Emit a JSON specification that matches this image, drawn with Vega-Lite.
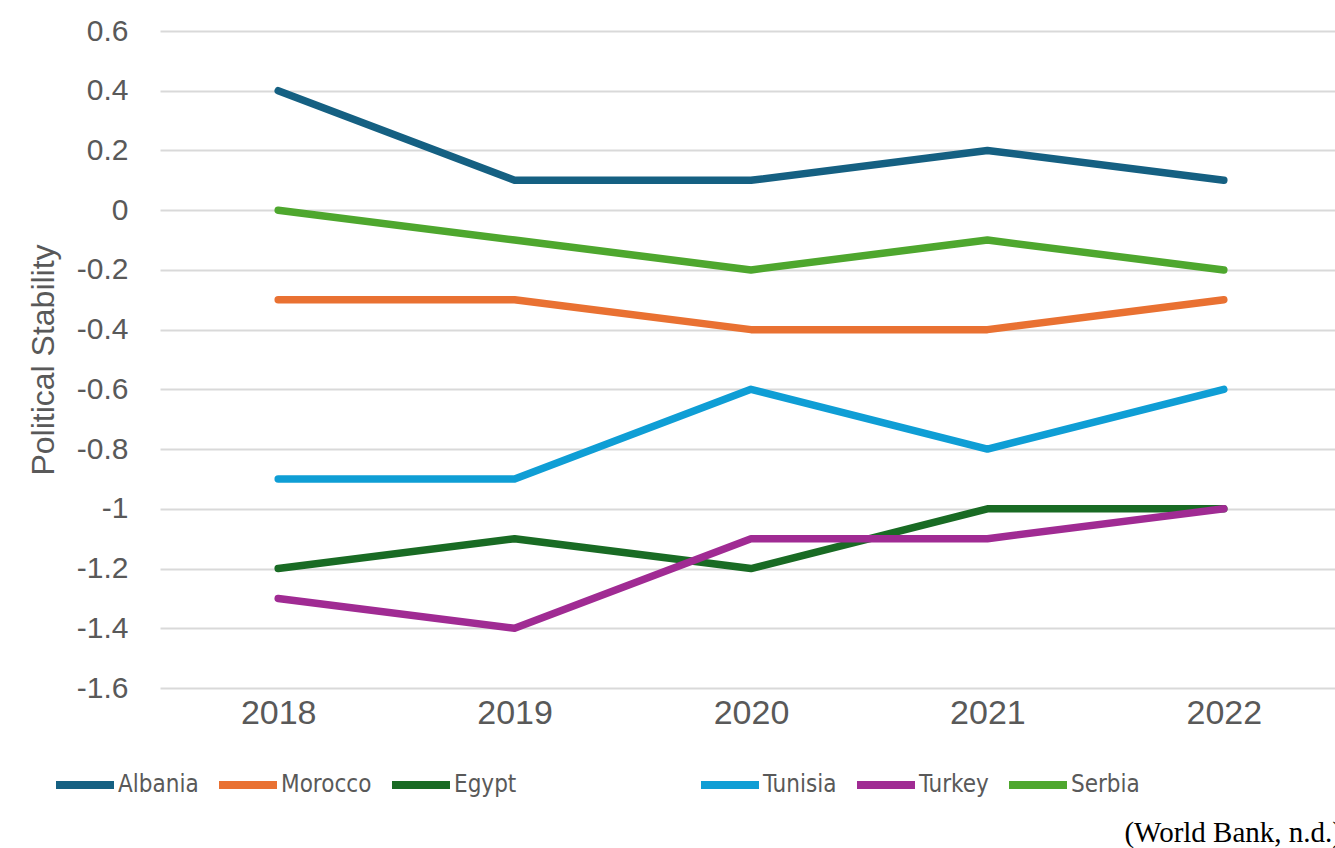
{
  "$schema": "https://vega.github.io/schema/vega-lite/v6.json",
  "width": 1182,
  "height": 657,
  "autosize": {"type": "none"},
  "padding": {"left": 160, "top": 31, "right": 0, "bottom": 160},
  "background": "white",
  "config": {
    "view": {"stroke": null},
    "font": "Liberation Sans"
  },
  "title": {
    "text": "(World Bank, n.d.)",
    "orient": "bottom",
    "anchor": "end",
    "font": "Liberation Serif",
    "fontSize": 29,
    "fontWeight": "normal",
    "color": "#000000",
    "offset": 18
  },
  "data": {
    "values": [
      {"Country": "Albania", "Year": "2018", "Value": 0.4},
      {"Country": "Albania", "Year": "2019", "Value": 0.1},
      {"Country": "Albania", "Year": "2020", "Value": 0.1},
      {"Country": "Albania", "Year": "2021", "Value": 0.2},
      {"Country": "Albania", "Year": "2022", "Value": 0.1},
      {"Country": "Morocco", "Year": "2018", "Value": -0.3},
      {"Country": "Morocco", "Year": "2019", "Value": -0.3},
      {"Country": "Morocco", "Year": "2020", "Value": -0.4},
      {"Country": "Morocco", "Year": "2021", "Value": -0.4},
      {"Country": "Morocco", "Year": "2022", "Value": -0.3},
      {"Country": "Egypt", "Year": "2018", "Value": -1.2},
      {"Country": "Egypt", "Year": "2019", "Value": -1.1},
      {"Country": "Egypt", "Year": "2020", "Value": -1.2},
      {"Country": "Egypt", "Year": "2021", "Value": -1.0},
      {"Country": "Egypt", "Year": "2022", "Value": -1.0},
      {"Country": "Tunisia", "Year": "2018", "Value": -0.9},
      {"Country": "Tunisia", "Year": "2019", "Value": -0.9},
      {"Country": "Tunisia", "Year": "2020", "Value": -0.6},
      {"Country": "Tunisia", "Year": "2021", "Value": -0.8},
      {"Country": "Tunisia", "Year": "2022", "Value": -0.6},
      {"Country": "Turkey", "Year": "2018", "Value": -1.3},
      {"Country": "Turkey", "Year": "2019", "Value": -1.4},
      {"Country": "Turkey", "Year": "2020", "Value": -1.1},
      {"Country": "Turkey", "Year": "2021", "Value": -1.1},
      {"Country": "Turkey", "Year": "2022", "Value": -1.0},
      {"Country": "Serbia", "Year": "2018", "Value": 0.0},
      {"Country": "Serbia", "Year": "2019", "Value": -0.1},
      {"Country": "Serbia", "Year": "2020", "Value": -0.2},
      {"Country": "Serbia", "Year": "2021", "Value": -0.1},
      {"Country": "Serbia", "Year": "2022", "Value": -0.2}
    ]
  },
  "encoding": {
    "x": {
      "field": "Year",
      "type": "ordinal",
      "scale": {"type": "point", "padding": 0.5},
      "axis": {
        "title": null,
        "labelAngle": 0,
        "labelFontSize": 34,
        "labelColor": "#595959",
        "labelPadding": 8,
        "domain": false,
        "ticks": false,
        "grid": false
      }
    },
    "y": {
      "field": "Value",
      "type": "quantitative",
      "scale": {"domain": [-1.6, 0.6], "nice": false, "zero": false},
      "axis": {
        "title": "Political Stability",
        "titleFontSize": 32,
        "titleFontWeight": "normal",
        "titleColor": "#595959",
        "titlePadding": 16,
        "values": [-1.6, -1.4, -1.2, -1.0, -0.8, -0.6, -0.4, -0.2, 0, 0.2, 0.4, 0.6],
        "labelExpr": "'' + datum.value",
        "labelFontSize": 30,
        "labelColor": "#595959",
        "labelPadding": 32,
        "domain": false,
        "ticks": false,
        "grid": true,
        "gridColor": "#d9d9d9",
        "gridWidth": 2
      }
    }
  },
  "layer": [
    {
      "transform": [{"filter": "indexof(['Albania','Morocco','Egypt'], datum.Country) >= 0"}],
      "mark": {"type": "line", "strokeWidth": 7.5, "strokeCap": "round", "strokeJoin": "round"},
      "encoding": {
        "color": {
          "field": "Country",
          "type": "nominal",
          "scale": {"domain": ["Albania", "Morocco", "Egypt"], "range": ["#156082", "#E97132", "#196B24"]},
          "legend": {
            "title": null,
            "orient": "none",
            "direction": "horizontal",
            "legendX": -108,
            "legendY": 721,
            "padding": 0,
            "symbolType": "stroke",
            "symbolSize": 3364,
            "symbolStrokeWidth": 8,
            "labelFont": "Liberation Sans Narrow, DejaVu Sans Condensed, sans-serif",
            "labelFontSize": 24,
            "labelColor": "#595959",
            "labelOffset": 0,
            "columnPadding": 4
          }
        }
      }
    },
    {
      "transform": [{"filter": "indexof(['Tunisia','Turkey','Serbia'], datum.Country) >= 0"}],
      "mark": {"type": "line", "strokeWidth": 7.5, "strokeCap": "round", "strokeJoin": "round"},
      "encoding": {
        "color": {
          "field": "Country",
          "type": "nominal",
          "scale": {"domain": ["Tunisia", "Turkey", "Serbia"], "range": ["#0F9ED5", "#A02B93", "#4EA72E"]},
          "legend": {
            "title": null,
            "orient": "none",
            "direction": "horizontal",
            "legendX": 537,
            "legendY": 721,
            "padding": 0,
            "symbolType": "stroke",
            "symbolSize": 3364,
            "symbolStrokeWidth": 8,
            "labelFont": "Liberation Sans Narrow, DejaVu Sans Condensed, sans-serif",
            "labelFontSize": 24,
            "labelColor": "#595959",
            "labelOffset": 0,
            "columnPadding": 4
          }
        }
      }
    }
  ],
  "resolve": {"scale": {"color": "independent"}}
}
